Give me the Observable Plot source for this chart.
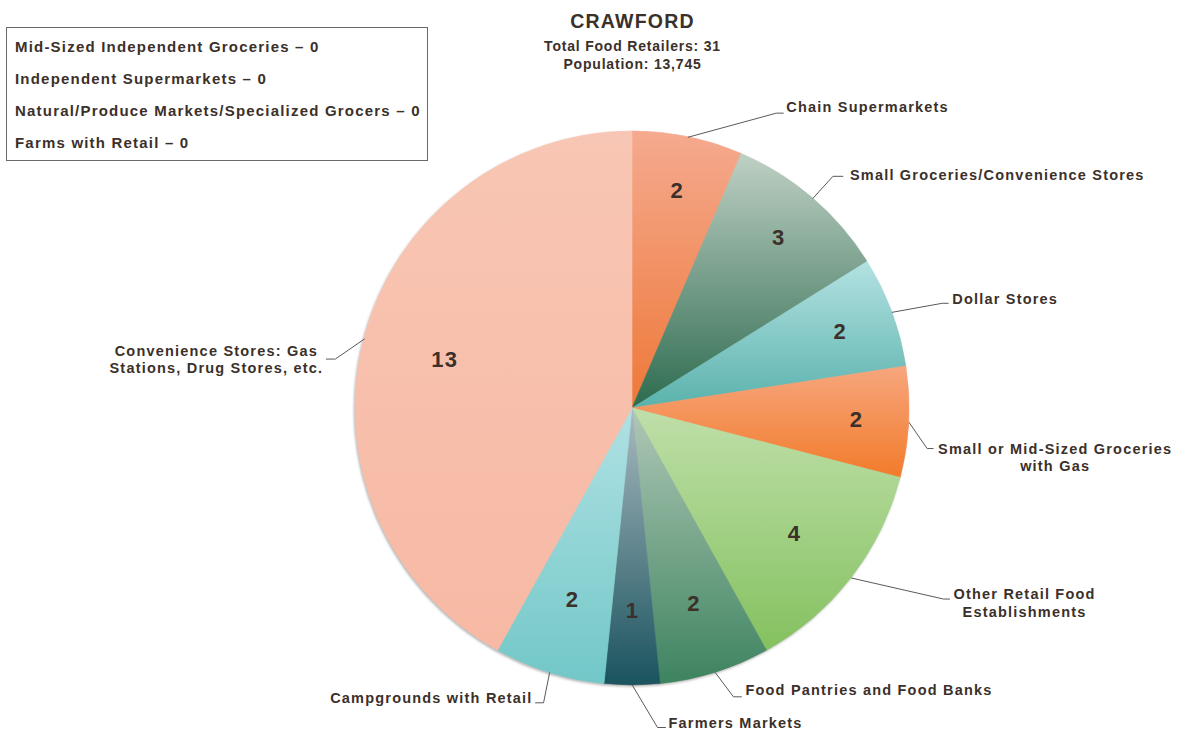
<!DOCTYPE html>
<html>
<head>
<meta charset="utf-8">
<script src="https://cdn.jsdelivr.net/npm/d3@7"></script>
<script src="https://cdn.jsdelivr.net/npm/@observablehq/plot@0.6"></script>
<style>
  body { margin: 0; background: #fff; }
  #chart { position: relative; width: 1183px; height: 741px; font-family: "Liberation Sans", Arial, sans-serif; }
  #legend { position: absolute; left: 6px; top: 27px; width: 420px; height: 128px; padding-top: 3px; padding-bottom: 1px;
            border: 1px solid #6a6a6a; background: #fff; font-weight: bold; font-size: 15px; letter-spacing: 1.2px; color: #3b302a; }
  #legend div { height: 32px; line-height: 32px; padding-left: 8px; white-space: nowrap; }
</style>
</head>
<body>
<div id="chart"></div>
<script>
// ---------------- data ----------------
const townName = "CRAWFORD";
const population = 13745;
const categories = [
  "Chain Supermarkets",
  "Small Groceries/Convenience Stores",
  "Dollar Stores",
  "Small or Mid-Sized Groceries\nwith Gas",
  "Other Retail Food\nEstablishments",
  "Food Pantries and Food Banks",
  "Farmers Markets",
  "Campgrounds with Retail",
  "Convenience Stores: Gas\nStations, Drug Stores, etc."
];
const counts = [2, 3, 2, 2, 4, 2, 1, 2, 13];
const zeroCategories = [
  "Mid-Sized Independent Groceries",
  "Independent Supermarkets",
  "Natural/Produce Markets/Specialized Grocers",
  "Farms with Retail"
];
const zeroCounts = [0, 0, 0, 0];

// ---------------- styles / layout ----------------
const topColors    = ["#F5AA8F", "#BFD0C4", "#B3E2E2", "#F7A67E", "#BFDFA9", "#B0C8B6", "#AABAC0", "#B0E1E4", "#F8C6B4"];
const bottomColors = ["#EE7838", "#2D6B4F", "#5AB2AC", "#F27B2A", "#84C15F", "#3D8360", "#1A535E", "#72C7C7", "#F7B9A4"];
const W = 1183, H = 741, CX = 632, CY = 408, R = 277;
const labelRadius = [0.80, 0.81, 0.80, 0.81, 0.74, 0.74, 0.73, 0.725, 0.70];
// [elbow dx, elbow dy, horizontal length, text dx, text dy, text anchor] in pixels
const callout = [
  [88, -24, 7, 3, -7, "start"],
  [20, -22, 10, 7, -2, "start"],
  [50, -9, 6, 4, -5, "start"],
  [18, 26, 6, 122, 8.5, "middle"],
  [92, 21, 6, 75, 3.5, "middle"],
  [18, 24, 8, 4, -7, "start"],
  [25, 42, 8, 3, -5, "start"],
  [-6, 30, -8, -3, -5, "end"],
  [-29, 20, -9, -110, 0, "middle"]
];
const textColor = "#3b302a";

// ---------------- derived geometry ----------------
const arcs = d3.pie().sort(null).value(d => d)(counts);
const ux = px => px / R, uy = px => -px / R;
const slices = arcs.map((a, i) => {
  const m = (a.startAngle + a.endAngle) / 2;
  const ex = Math.sin(m), ey = Math.cos(m);
  const [edx, edy, hl, tdx, tdy, anchor] = callout[i];
  const bx = ex + ux(edx), by = ey + uy(edy);
  const cx2 = bx + ux(hl), cy2 = by;
  return {
    category: categories[i], count: counts[i], mid: m,
    lx: labelRadius[i] * ex, ly: labelRadius[i] * ey,
    pts: [[ex, ey], [bx, by], [cx2, cy2]],
    tx: cx2 + ux(tdx), ty: cy2 + uy(tdy), anchor
  };
});
const lineData = slices.flatMap(s => s.pts.map(p => ({key: s.category, x: p[0], y: p[1]})));

function pieMark(index, scales) {
  const cx = scales.x(0), cy = scales.y(0), r = scales.x(1) - scales.x(0);
  const g = d3.create("svg:g");
  const defs = g.append("defs");
  const f = defs.append("filter").attr("id", "pieShadow").attr("x", "-10%").attr("y", "-10%").attr("width", "120%").attr("height", "120%");
  f.append("feDropShadow").attr("dx", -1).attr("dy", 1.5).attr("stdDeviation", 1.2)
    .attr("flood-color", "#7a7a7a").attr("flood-opacity", 0.55);
  arcs.forEach((a, i) => {
    const lg = defs.append("linearGradient").attr("id", "sliceGrad" + i)
      .attr("x1", 0).attr("y1", 0).attr("x2", 0).attr("y2", 1);
    lg.append("stop").attr("offset", "0%").attr("stop-color", topColors[i]);
    lg.append("stop").attr("offset", "100%").attr("stop-color", bottomColors[i]);
  });
  const arcGen = d3.arc().innerRadius(0).outerRadius(r);
  g.append("g").attr("transform", `translate(${cx},${cy})`).attr("filter", "url(#pieShadow)")
    .selectAll("path").data(arcs).join("path")
    .attr("d", arcGen)
    .attr("fill", (d, i) => `url(#sliceGrad${i})`)
    .attr("stroke", (d, i) => `url(#sliceGrad${i})`)
    .attr("stroke-width", 0.6);
  return g.node();
}

const total = d3.sum(counts);
const textOpts = {fill: textColor, fontWeight: "bold"};

const chart = Plot.plot({
  width: W, height: H, margin: 0,
  x: {domain: [-CX / R, (W - CX) / R], axis: null},
  y: {domain: [-(H - CY) / R, CY / R], axis: null},
  style: {fontFamily: "'Liberation Sans', Arial, sans-serif", letterSpacing: "1.2px", background: "#fff", overflow: "visible"},
  marks: [
    pieMark,
    Plot.line(lineData, {x: "x", y: "y", z: "key", stroke: "#5a5a5a", strokeWidth: 1}),
    Plot.text(slices, {x: "lx", y: "ly", text: d => String(d.count), fontSize: 22, ...textOpts}),
    Plot.text(slices.filter(s => s.anchor === "start"), {x: "tx", y: "ty", text: "category", textAnchor: "start", fontSize: 14.5, lineHeight: 1.2, ...textOpts}),
    Plot.text(slices.filter(s => s.anchor === "middle"), {x: "tx", y: "ty", text: "category", textAnchor: "middle", fontSize: 14.5, lineHeight: 1.2, ...textOpts}),
    Plot.text(slices.filter(s => s.anchor === "end"), {x: "tx", y: "ty", text: "category", textAnchor: "end", fontSize: 14.5, lineHeight: 1.2, ...textOpts}),
    Plot.text([townName], {x: () => 0, frameAnchor: "top", dy: 14, fontSize: 19.5, ...textOpts}),
    Plot.text([`Total Food Retailers: ${total}`], {x: () => 0, frameAnchor: "top", dy: 41, fontSize: 14, ...textOpts}),
    Plot.text([`Population: ${d3.format(",")(population)}`], {x: () => 0, frameAnchor: "top", dy: 59, fontSize: 14, ...textOpts})
  ]
});

// subtitle lines use slightly tighter tracking
d3.select(chart).selectAll("g[font-size='14']").attr("letter-spacing", "0.8px");

const container = document.getElementById("chart");
container.appendChild(chart);
const legend = d3.select(container).append("div").attr("id", "legend");
legend.selectAll("div").data(zeroCategories).join("div")
  .text((d, i) => `${d} \u2013 ${zeroCounts[i]}`);
</script>
</body>
</html>
